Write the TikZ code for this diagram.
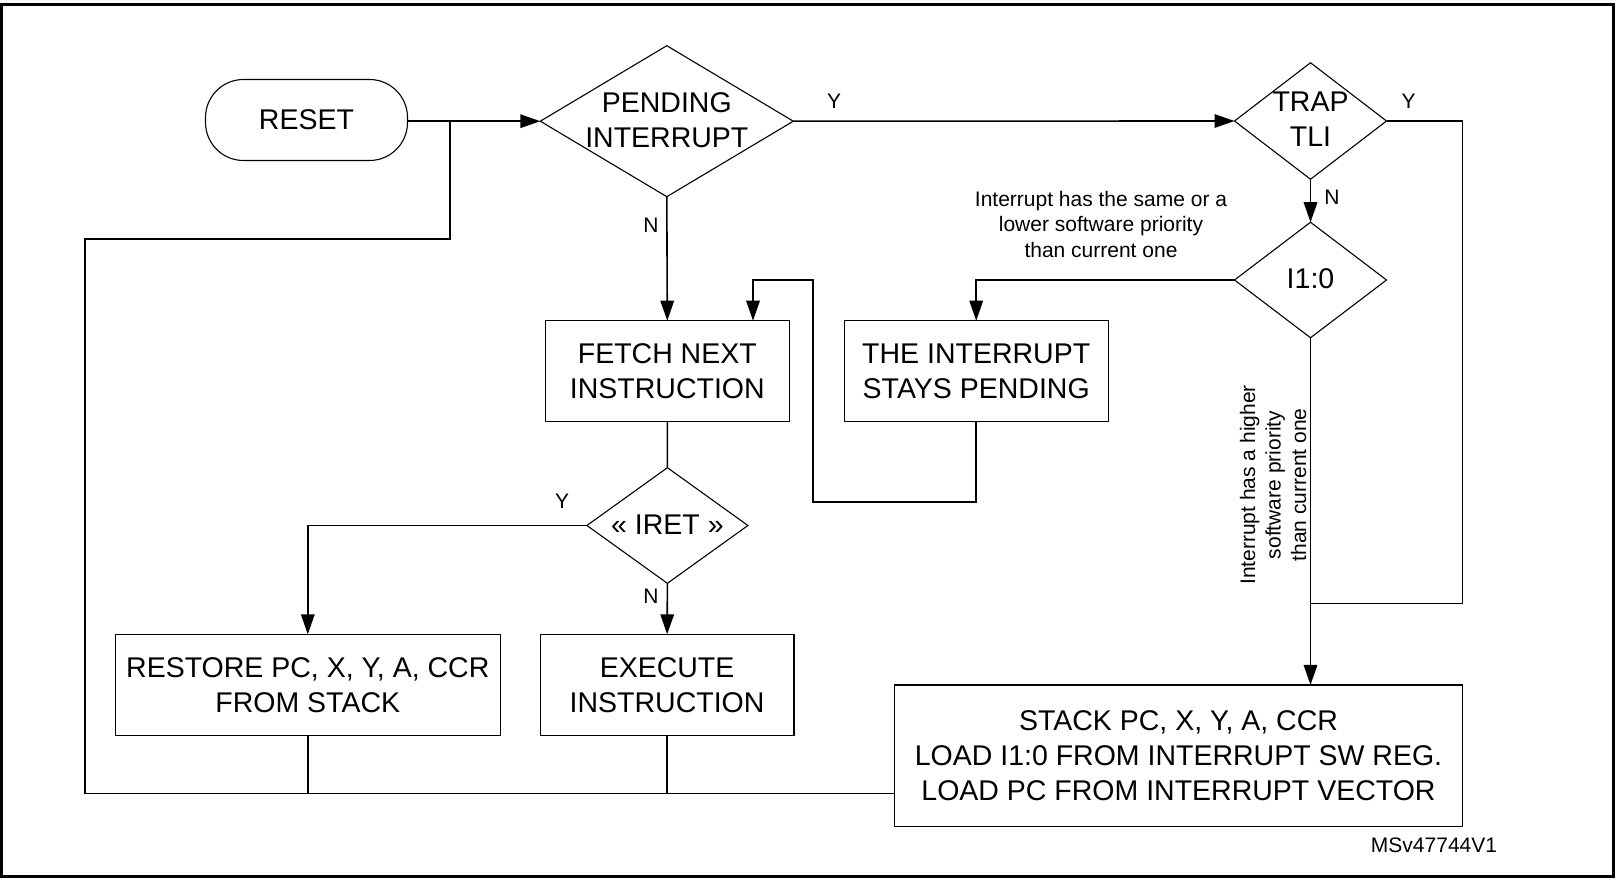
\documentclass[tikz,border=0pt]{standalone}
\usepackage{fontspec}
\setmainfont{Liberation Sans}
\usetikzlibrary{shapes.geometric,arrows.meta}
\tikzset{
  big/.style={font=\fontsize{28.5}{35}\selectfont, align=center},
  small/.style={font=\fontsize{21}{25.5}\selectfont, align=center},
  box/.style={draw, line width=1.1pt, rectangle, inner sep=0pt, outer sep=0pt, big},
  dia/.style={draw, line width=1.1pt, diamond, inner sep=0pt, outer sep=0pt},
  conn/.style={line width=1.6pt},
  arr/.style={line width=1.6pt, -{Triangle[length=20pt,width=13.5pt]}},
  tag/.style={font=\fontsize{21}{25.5}\selectfont, inner sep=0pt}
}
\begin{document}
\begin{tikzpicture}[x=1pt,y=-1pt]
\useasboundingbox (0,0) rectangle (1619,885);
\draw[line width=2.5pt] (1.5,4.5) rectangle (1613.5,876.5);

% nodes
\node[box, rounded corners=38pt, minimum width=202pt, minimum height=81pt] (reset) at (306.5,120) {RESET};
\node[dia, minimum width=253pt, minimum height=151pt,
      label={[big,yshift=1.5pt]center:PENDING\\INTERRUPT}] (pi) at (666.8,121.2) {};
\node[dia, minimum width=152pt, minimum height=116.5pt,
      label={[big,yshift=1.5pt]center:TRAP\\TLI}] (trap) at (1310.5,121) {};
\node[dia, minimum width=152pt, minimum height=115.5pt,
      label={[big,yshift=1pt]center:I1:0}] (ilev) at (1310.5,280) {};
\node[box, minimum width=243.7pt, minimum height=101pt] (fetch) at (667.3,371.2) {FETCH NEXT\\INSTRUCTION};
\node[box, minimum width=264pt, minimum height=101pt] (pend) at (976.2,371.2) {THE INTERRUPT\\STAYS PENDING};
\node[dia, minimum width=161pt, minimum height=115.6pt,
      label={[big,yshift=1pt]center:« IRET »}] (iret) at (667.4,525.5) {};
\node[box, minimum width=385.5pt, minimum height=101pt] (restore) at (307.8,684.8) {RESTORE PC, X, Y, A, CCR\\FROM STACK};
\node[box, minimum width=253.7pt, minimum height=101pt] (exec) at (667.1,684.8) {EXECUTE\\INSTRUCTION};
\node[box, minimum width=568pt, minimum height=141.7pt] (stack) at (1178.5,755.8) {STACK PC, X, Y, A, CCR\\LOAD I1:0 FROM INTERRUPT SW REG.\\LOAD PC FROM INTERRUPT VECTOR};

% texts
\node[small] (samenote) at (1101,224) {Interrupt has the same or a\\lower software priority\\than current one};
\node[small, rotate=90] (highnote) at (1273,485) {Interrupt has a higher\\software priority\\than current one};
\node[tag] (ypi) at (834,101.7) {Y};
\node[tag] (npi) at (651,225) {N};
\node[tag] (ytrap) at (1408.5,101.7) {Y};
\node[tag] (ntrap) at (1332,197.7) {N};
\node[tag] (yiret) at (562,501.7) {Y};
\node[tag] (niret) at (651,596.7) {N};
\node[tag] (ref) at (1434,845) {MSv47744V1};

% helper coordinates
\coordinate (j1) at (449.8,120);
\coordinate (j2) at (449.8,239);
\coordinate (j3) at (84.7,239);
\coordinate (j4) at (84.7,793.3);
\coordinate (t1) at (1462.5,121);
\coordinate (t2) at (1462.5,603.3);
\coordinate (t3) at (1310.5,603.3);
\coordinate (p1) at (976.2,501.7);
\coordinate (p2) at (813,501.7);
\coordinate (p3) at (813,280);
\coordinate (p4) at (753,280);

% connectors
\draw[arr] (reset.east |- pi.west) -- (pi.west);
\draw[conn] (j1) -- (j2) -- (j3) -- (j4) -- (stack.west |- j4);
\draw[conn] (restore.south) -- (restore.south |- j4);
\draw[conn] (exec.south) -- (exec.south |- j4);
\draw[arr] (pi.east) -- (trap.west);
\draw[arr] (pi.south) -- (fetch.north);
\draw[conn] (fetch.south) -- (iret.north);
\draw[arr] (iret.west) -| (restore.north);
\draw[arr] (iret.south) -- (exec.north);
\draw[arr] (trap.south) -- (ilev.north);
\draw[conn] (trap.east) -- (t1) -- (t2) -- (t3);
\draw[arr] (ilev.south) -- (ilev.south |- stack.north);
\draw[arr] (ilev.west) -| (pend.north);
\draw[arr] (pend.south) -- (p1) -- (p2) -- (p3) -- (p4) -- (p4 |- fetch.north);
\end{tikzpicture}
\end{document}
